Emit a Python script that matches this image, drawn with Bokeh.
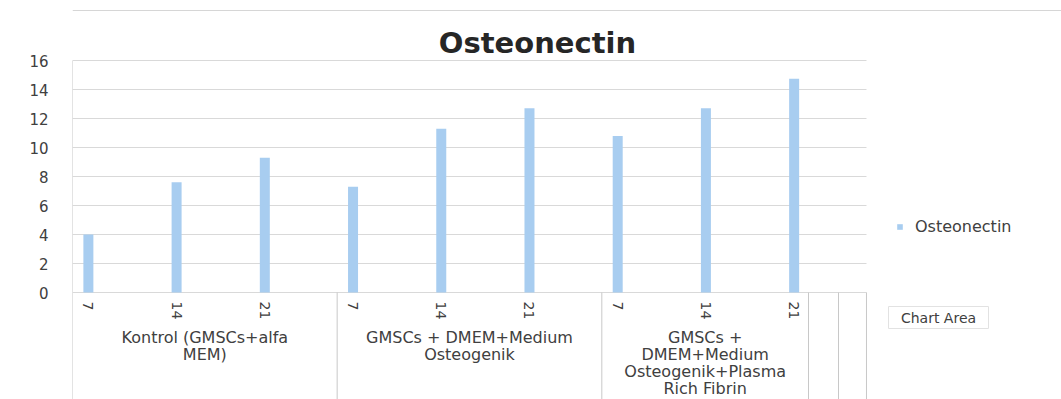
import math
from bokeh.plotting import figure
from bokeh.models import FixedTicker, Legend, LegendItem, Range1d, ColumnDataSource
from bokeh.embed import file_html
from bokeh.resources import INLINE
from bokeh.core.properties import value

# ---------------- data ----------------
chart_title = "Osteonectin"
series_name = "Osteonectin"
groups = ["Kontrol (GMSCs+alfa\nMEM)",
          "GMSCs + DMEM+Medium\nOsteogenik",
          "GMSCs +\nDMEM+Medium\nOsteogenik+Plasma\nRich Fibrin"]
days = ["7", "14", "21"]
values = [4.0, 7.6, 9.3, 7.3, 11.3, 12.7, 10.8, 12.7, 14.75]
y_ticks = [0, 2, 4, 6, 8, 10, 12, 14, 16]
tooltip_text = "Chart Area"

# ---------------- layout (pixels) ----------------
W, H = 1061, 399
PL = 72            # left edge of plot area
SLOT = 88.22       # px per category slot
Y0 = 292           # px of value 0
PPU = 14.5         # px per value unit
FONT = "DejaVu Sans"
TXT = "#404040"
GRID = "#d9d9d9"
SEP = "#c8c8c8"
BAR = "#a8cdf0"

def px_x(px):
    return (px - PL) / SLOT

def px_y(px):
    return (Y0 - px) / PPU

p = figure(width=W, height=H, output_backend="svg", toolbar_location=None,
           x_range=Range1d(0, (W - PL) / SLOT), y_range=Range1d(-(H - Y0) / PPU, Y0 / PPU),
           min_border_left=PL, min_border_right=0, min_border_top=0, min_border_bottom=0)
p.xaxis.visible = False
p.xgrid.visible = False
p.ygrid.visible = False
p.outline_line_color = None
p.background_fill_color = "white"
p.border_fill_color = "white"

yax = p.yaxis[0]
yax.ticker = FixedTicker(ticks=y_ticks)
yax.axis_line_color = None
yax.major_tick_line_color = None
yax.minor_tick_line_color = None
yax.major_tick_out = 0
yax.major_label_standoff = 24
yax.major_label_text_font = FONT
yax.major_label_text_font_size = "15px"
yax.major_label_text_color = TXT

n_slots = len(groups) * len(days)

# chart border (top)
p.segment(x0=[0], x1=[px_x(W)], y0=[px_y(10)], y1=[px_y(10)], line_color="#d6d6d6", line_width=1)

# gridlines
p.segment(x0=[0] * len(y_ticks), x1=[n_slots] * len(y_ticks), y0=y_ticks, y1=y_ticks,
          line_color=GRID, line_width=1)

# category separators (group cell boundaries + two empty trailing cells)
bottom = px_y(H)
bounds = [len(days) * g for g in range(len(groups))] + [px_x(808)]
extra = [px_x(838), n_slots]
p.segment(x0=[0], x1=[0], y0=[y_ticks[-1]], y1=[0], line_color=SEP, line_width=1)
vx = bounds + extra
p.segment(x0=vx, x1=vx, y0=[0] * len(vx), y1=[bottom] * len(vx), line_color=SEP, line_width=1)

# bars
bar_x = [i + 0.18 for i in range(n_slots)]
src = ColumnDataSource(dict(x=bar_x, top=values))
bars = p.vbar(x="x", top="top", bottom=0, width=10 / SLOT, source=src,
              fill_color=BAR, line_color=None)

# day tick labels (rotated)
day_labels = days * len(groups)
p.text(x=bar_x, y=[px_y(301)] * n_slots, text=day_labels, angle=-math.pi / 2,
       text_align="left", text_baseline="middle", text_font=value(FONT),
       text_font_size="14px", text_color=TXT)

# group labels, centred in their cells
gx, gy, gt = [], [], []
for g, name in enumerate(groups):
    cx = (bounds[g] + bounds[g + 1]) / 2
    for i, line in enumerate(name.split("\n")):
        gx.append(cx)
        gy.append(px_y(337 + 17 * i))
        gt.append(line)
p.text(x=gx, y=gy, text=gt, text_align="center", text_baseline="middle",
       text_font=value(FONT), text_font_size="16px", text_color=TXT)

# title
p.text(x=[px_x(537)], y=[px_y(42)], text=[chart_title], text_align="center", text_baseline="middle",
       text_font=value(FONT), text_font_size="29px", text_font_style="bold", text_color="#262626")

# legend
legend = Legend(items=[LegendItem(label=series_name, renderers=[bars])],
                location=(896 - PL, H - 236), orientation="vertical",
                padding=0, margin=0, spacing=0, border_line_color=None,
                background_fill_alpha=0, glyph_width=7, glyph_height=7,
                label_standoff=12, label_height=14, label_text_font=FONT,
                label_text_font_size="16px", label_text_color=TXT)
p.add_layout(legend)

# "Chart Area" tooltip box
p.quad(left=[px_x(888)], right=[px_x(988)], top=[px_y(306)], bottom=[px_y(328)],
       fill_color="white", line_color="#e2e2e2", line_width=1)
p.text(x=[px_x(938)], y=[px_y(317)], text=[tooltip_text], text_align="center", text_baseline="middle",
       text_font=value(FONT), text_font_size="14px", text_color=TXT)

open("out.html", "w").write(file_html(p, INLINE))
